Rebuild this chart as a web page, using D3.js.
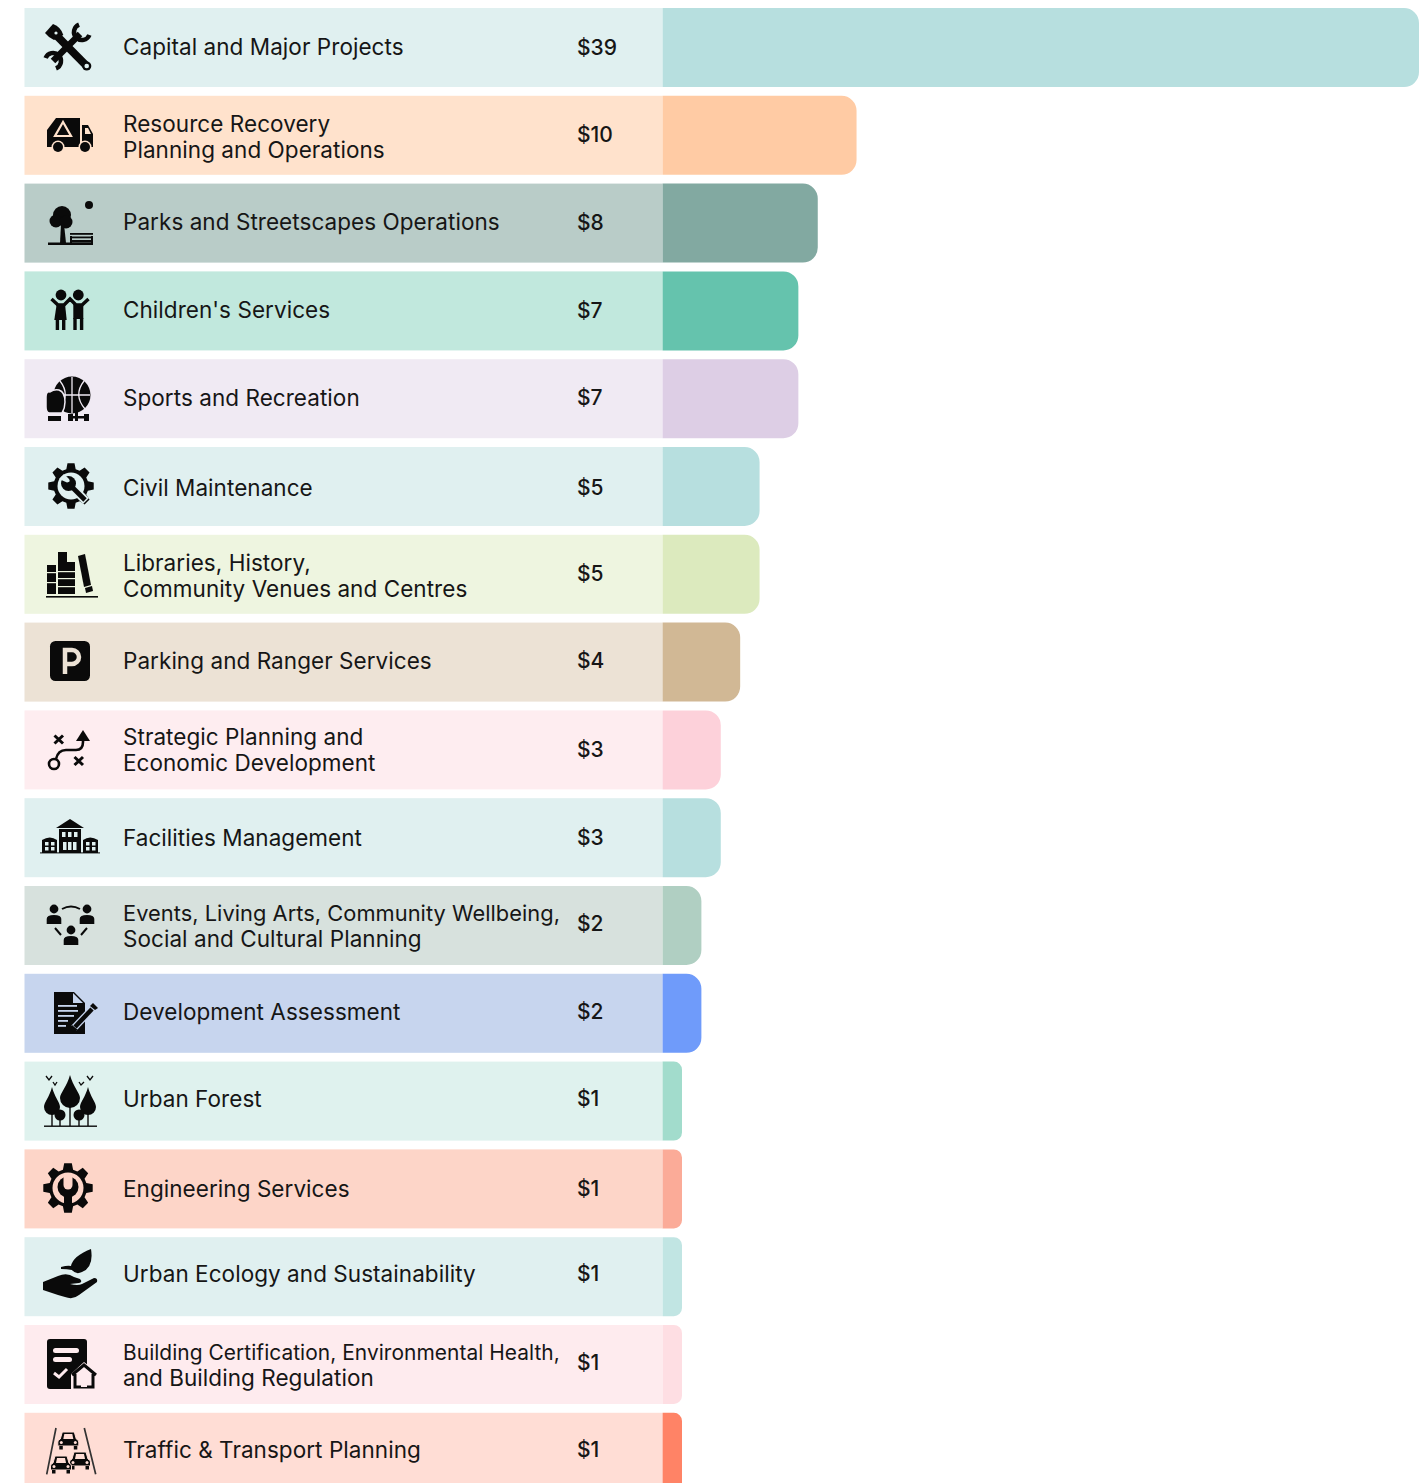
<!DOCTYPE html>
<html>
<head>
<meta charset="utf-8">
<script src="https://cdn.jsdelivr.net/npm/d3@7"></script>
<style>
  html, body { margin: 0; background: #fff; overflow: hidden; }
  svg { display: block; }
  text { font-family: Inter, "Noto Sans", sans-serif; fill: #161616; }
  .label { font-size: 22.5px; letter-spacing: 0.05px; }
  .value { font-size: 21px; font-weight: 500; }
</style>
</head>
<body>
<svg id="chart" width="1426" height="1483"></svg>
<script>
const categories = [
  "Capital and Major Projects",
  "Resource Recovery\nPlanning and Operations",
  "Parks and Streetscapes Operations",
  "Children's Services",
  "Sports and Recreation",
  "Civil Maintenance",
  "Libraries, History,\nCommunity Venues and Centres",
  "Parking and Ranger Services",
  "Strategic Planning and\nEconomic Development",
  "Facilities Management",
  "Events, Living Arts, Community Wellbeing,\nSocial and Cultural Planning",
  "Development Assessment",
  "Urban Forest",
  "Engineering Services",
  "Urban Ecology and Sustainability",
  "Building Certification, Environmental Health,\nand Building Regulation",
  "Traffic & Transport Planning"
];
const values = [39, 10, 8, 7, 7, 5, 5, 4, 3, 3, 2, 2, 1, 1, 1, 1, 1];
const panelColours = [
  "#e0f0f0", "#ffe2cc", "#b9ccc8", "#c1e8dd", "#f0eaf3", "#e0f0f0",
  "#eef5e0", "#ece2d5", "#feedf0", "#e0f0f0", "#d7e1dd", "#c7d5ee",
  "#dff2ee", "#fdd5c8", "#e0f0f0", "#feebee", "#ffddd5"
];
const barColours = [
  "#b7dfdf", "#ffcba4", "#82a9a1", "#65c3ad", "#ddcee5", "#b7dfdf",
  "#dceabe", "#d1b895", "#fdd1da", "#b7dfdf", "#b0cfc2", "#6f9bfa",
  "#a2dccc", "#fbab98", "#c1e5e3", "#fedee3", "#ff8366"
];
const ink = "#0a0a0a";

const svg = d3.select("#chart");
const panelLeft = 24.5;
const labelX = 123;
const valueX = 577;
const maxLabel = 437;
const x = d3.scaleLinear().domain([0, 39]).range([662.6, 1419]);
const y = d3.scaleBand().domain(categories).range([8, 1491.8]).paddingInner(0.1).paddingOuter(0);
const panelColour = d3.scaleOrdinal(categories, panelColours);
const barColour = d3.scaleOrdinal(categories, barColours);

const rows = categories.map((name, i) => ({ name, value: values[i], i }));

const row = svg.selectAll("g.row").data(rows).join("g").attr("class", "row");

row.append("rect")
  .attr("x", panelLeft)
  .attr("y", d => y(d.name))
  .attr("width", x(0) - panelLeft)
  .attr("height", y.bandwidth())
  .attr("fill", d => panelColour(d.name));

// bar only rounds its right side, radius shrinks on the short ones
row.append("path")
  .attr("fill", d => barColour(d.name))
  .attr("d", d => {
    const x0 = x(0), x1 = x(d.value), t = y(d.name), h = y.bandwidth();
    const r = Math.min(15, (x1 - x0) * 0.42);
    return `M${x0},${t}H${x1 - r}A${r},${r} 0 0 1 ${x1},${t + r}V${t + h - r}A${r},${r} 0 0 1 ${x1 - r},${t + h}H${x0}Z`;
  });

// ---- icons, drawn by hand around a local centre ----
function gearPath(teeth, rOut, rIn) {
  const pts = [];
  const step = (2 * Math.PI) / teeth;
  for (let i = 0; i < teeth; i++) {
    const a = i * step - Math.PI / 2;
    [[-0.30, rIn], [-0.17, rOut], [0.17, rOut], [0.30, rIn]].forEach(([k, r]) => {
      pts.push([r * Math.cos(a + k * step * 1.15), r * Math.sin(a + k * step * 1.15)]);
    });
  }
  return d3.line()(pts) + "Z";
}
const fill = (g, d, c) => g.append("path").attr("d", d).attr("fill", c || ink);
const line = (g, d, w, c) => g.append("path").attr("d", d).attr("fill", "none")
  .attr("stroke", c || ink).attr("stroke-width", w);
const dot = (g, cx, cy, r, c) => g.append("circle").attr("cx", cx).attr("cy", cy).attr("r", r).attr("fill", c || ink);
const box = (g, bx, by, w, h, c, r) => g.append("rect").attr("x", bx).attr("y", by).attr("width", w).attr("height", h)
  .attr("rx", r || 0).attr("fill", c || ink);
function person(g, px, py, w) {
  dot(g, px, py, w * 0.6);
  fill(g, `M${px - w},${py + 15}V${py + 10}Q${px - w},${py + 6} ${px},${py + 6}Q${px + w},${py + 6} ${px + w},${py + 10}V${py + 15}Z`);
}
function car(g, cx, cy, bg) {
  fill(g, `M${cx - 8},${cy - 1}L${cx - 6},${cy - 8}H${cx + 6}L${cx + 8},${cy - 1}Q${cx + 10.5},${cy} ${cx + 10.5},${cy + 2}V${cy + 6}H${cx - 10.5}V${cy + 2}Q${cx - 10.5},${cy} ${cx - 8},${cy - 1}Z`).attr("stroke", bg).attr("stroke-width", 1);
  fill(g, `M${cx - 5},${cy - 1}L${cx - 4},${cy - 6}H${cx + 4}L${cx + 5},${cy - 1}Z`, bg);
  box(g, cx - 9, cy + 6, 3.5, 3.5); box(g, cx + 5.5, cy + 6, 3.5, 3.5);
  dot(g, cx - 7, cy + 2.5, 1.5, bg); dot(g, cx + 7, cy + 2.5, 1.5, bg);
}
function teardrop(g, cx, top, bottom, w) {
  fill(g, `M${cx},${top}C${cx + w * 0.3},${top + (bottom - top) * 0.35} ${cx + w},${top + (bottom - top) * 0.55} ${cx + w},${bottom - w}A${w},${w} 0 0 1 ${cx - w},${bottom - w}C${cx - w},${top + (bottom - top) * 0.55} ${cx - w * 0.3},${top + (bottom - top) * 0.35} ${cx},${top}Z`);
}

// at = icon centre, labelDy / valueDy = small per-row text nudges of the layout
const layout = [
  // tools
  { at: [68, 47], labelDy: 0, valueDy: 0, draw: (g, bg) => {
    line(g, "M-15,14L12,-13", 6.5);
    line(g, "M11,-22.4A8,8 0 1 0 21.4,-12", 4.5);
    line(g, "M-22.4,11A8,8 0 1 1 -12,21.4", 4.5);
    fill(g, "M-23,-14L-15,-23Q-7,-20 -4.7,-12L-14,-7Q-20,-10 -23,-14Z");
    line(g, "M-12,-12L18.7,19", 8);
    dot(g, 18.7, 19, 4.6);
    dot(g, 18.7, 19, 2.3, bg);
    dot(g, -12, -14, 1.6, bg);
  } },
  // recycling truck
  { at: [70, 135], labelDy: 2, valueDy: -1, draw: (g, bg) => {
    fill(g, "M-14,-17H10V8H-23V-5Z");
    fill(g, "M12,-10H18L23,-1V12H12Z");
    fill(g, "M15,-7H18L21,-1H15Z", bg);
    box(g, -23, 8, 46, 4);
    dot(g, -12, 12, 6.5, bg); dot(g, 15, 12, 6.5, bg);
    dot(g, -12, 12, 5); dot(g, 15, 12, 5);
    line(g, "M-7,-13L-15,1H1Z", 2.2, bg);
  } },
  // park and bench
  { at: [71, 222], labelDy: -1, valueDy: -1, draw: (g, bg) => {
    dot(g, 18, -17, 4);
    dot(g, -9, -7, 9); dot(g, -15, -1, 6.5); dot(g, -5, 0, 6.5);
    fill(g, "M-10,2H-7L-5,21H-11Z");
    box(g, -23, 20.5, 45, 2.5);
    box(g, -1, 11, 23, 1.8); box(g, -1, 14.5, 23, 1.8); box(g, -1, 18, 23, 2.5);
    box(g, -1, 14, 2, 7); box(g, 20, 14, 2, 7);
  } },
  // children
  { at: [70, 310], labelDy: 0, valueDy: 0, draw: (g) => {
    dot(g, -9, -15, 5.4); dot(g, 8.3, -15, 5.4);
    line(g, "M-18.5,-11L-12,-5H-6L0,-11L6,-5H12L18.5,-11", 3.4);
    fill(g, "M-13.3,-6H-5L-3.3,10H-15.7Z");
    box(g, -14.3, 9, 3.4, 11); box(g, -8, 9, 3.4, 11);
    box(g, 3.3, -6, 10, 15);
    box(g, 3.3, 8, 3.4, 12); box(g, 9.9, 8, 3.4, 12);
  } },
  // sport
  { at: [68, 398], labelDy: 0, valueDy: -1, draw: (g, bg) => {
    dot(g, 4, -3, 18.5);
    line(g, "M4,-21V15M-14,-3H22", 1.3, bg);
    line(g, "M-8,-17Q3,-3 -9,11M16,-17Q5,-3 17,11", 1.3, bg);
    fill(g, "M-18,-6Q-22,-7 -22,-1V9Q-22,14 -19,15H-6Q-3,10 -3,4Q-3,-6 -9,-8Q-14,-9 -18,-6Z").attr("stroke", bg).attr("stroke-width", 1.5);
    box(g, -20, 18, 13, 5);
    box(g, 0, 16, 5, 7); box(g, 16, 16, 5, 7); box(g, 5, 18, 11, 2.5);
    box(g, 7, 14, 3, 9);
  } },
  // civil gear
  { at: [71, 486], labelDy: 2, valueDy: 1, draw: (g, bg) => {
    fill(g, gearPath(8, 23, 17.5));
    dot(g, 0, 0, 13.5, bg);
    line(g, "M0,0L15,15", 8.5, bg);
    line(g, "M-2,-2L14,14", 4.8);
    dot(g, -2.5, -2.5, 7.5);
    fill(g, "M-12,-7L-7,-12L-2,-7Q0,-4 -4,-3.5Z", bg);
  } },
  // books
  { at: [71, 575], labelDy: 2, valueDy: -1, draw: (g, bg) => {
    box(g, -25, 21, 52, 1.6);
    box(g, -24, -10, 9, 29); box(g, -13, -23, 9, 42); box(g, -5, -13, 9, 32);
    fill(g, "M7,-19L14,-21L20,10L13,12Z");
    fill(g, "M14,13L21,11L22,16L15,18Z");
    [-3, 7].forEach(ly => box(g, -24, ly, 9, 1.2, bg));
    [-4, 3, 11].forEach(ly => box(g, -13, ly, 17, 1.2, bg));
  } },
  // parking
  { at: [70, 661], labelDy: -1, valueDy: -2, draw: (g, bg) => {
    box(g, -20, -20, 40, 40, ink, 5.5);
    line(g, "M-5,13V-11H2A7,7 0 0 1 2,3H-5", 4.5, bg);
  } },
  // strategy
  { at: [68, 750], labelDy: 1, valueDy: 0, draw: (g) => {
    line(g, "M-13.5,-14.5L-5,-6.5M-5,-14.5L-13.5,-6.5", 3);
    line(g, "M6.5,7L15,15M15,7L6.5,15", 3);
    g.append("circle").attr("cx", -14).attr("cy", 14).attr("r", 5).attr("fill", "none").attr("stroke", ink).attr("stroke-width", 2.6);
    line(g, "M-12,9Q-10,0 -2,0H8Q15,0 15,-8V-11", 2.6);
    fill(g, "M15,-20L22,-9H8Z");
  } },
  // facilities
  { at: [70, 836], labelDy: 1, valueDy: 0, draw: (g, bg) => {
    box(g, -30, 16.4, 60, 1);
    fill(g, "M0,-17L14,-8H-14Z");
    box(g, -11, -7, 22, 24);
    fill(g, "M-28,4Q-20,-1 -13,4V17H-28Z");
    fill(g, "M28,4Q20,-1 13,4V17H28Z");
    [-8, -2, 4].forEach(wx => box(g, wx, -4, 3.5, 5, bg));
    [-7, -2, 3].forEach(wx => box(g, wx, 6, 3.5, 8, bg));
    [-25, -19, 16, 22].forEach(wx => { box(g, wx, 6, 3.5, 3.5, bg); box(g, wx, 11, 3.5, 3.5, bg); });
  } },
  // people
  { at: [71, 925], labelDy: 1, valueDy: -2, draw: (g) => {
    person(g, -17, -16, 7.3); person(g, 16, -16, 7.3); person(g, 0, 5, 7.3);
    line(g, "M-9,-16Q0,-21 9,-16", 2);
    line(g, "M-16,3L-10,10M16,3L10,10", 2);
  } },
  // document and pencil
  { at: [75, 1012], labelDy: -1, valueDy: -2, draw: (g, bg) => {
    fill(g, "M-21,-20H-1L10,-9V22H-21Z");
    fill(g, "M-2,-19L8,-9H-2Z", bg);
    [-7, -2, 3, 8, 13].forEach((ly, k) => box(g, -17, ly, [19, 20, 16, 10, 8][k], 1.8, bg));
    line(g, "M-1,16L17,-3", 7, bg);
    line(g, "M0,15L17,-3", 4.5);
    fill(g, "M-4,20L-3,13L3,18Z");
    fill(g, "M18,-9L23,-4L20,-2L15,-6Z");
  } },
  // forest
  { at: [70, 1100], labelDy: -2, valueDy: -3, draw: (g) => {
    box(g, -26, 25.5, 53, 1.4);
    teardrop(g, 0, -25, 8, 10); teardrop(g, -18, -13, 15, 8); teardrop(g, 18, -13, 15, 8);
    dot(g, -10, 15, 5.5); dot(g, 9, 15, 5.5);
    line(g, "M0,5V26M-18,12V26M18,12V26M-10,15V26M9,15V26", 1.4);
    line(g, "M-24,-24L-21,-20L-18,-24M-17,-18L-15,-15L-13,-18", 1.3);
    line(g, "M17,-24L20,-20L23,-24M9,-18L11,-15L14,-18", 1.3);
  } },
  // engineering gear
  { at: [68, 1188], labelDy: 1, valueDy: 0, draw: (g, bg) => {
    fill(g, gearPath(8, 25, 19));
    dot(g, 0, 0, 15.5, bg);
    dot(g, 0, -1, 10.5);
    box(g, -4, 6, 8, 12);
    fill(g, "M-4.5,-13V-3A4.5,4.5 0 0 0 4.5,-3V-13Z", bg);
  } },
  // hand and leaf
  { at: [70, 1273], labelDy: -2, valueDy: -3, draw: (g) => {
    fill(g, "M-27,9L-12,3Q-3,-1 4,4L10,6Q13,9 9,10L0,11Q8,13 12,11L24,5Q28,5 27,9L9,22Q3,27 -5,24L-12,22L-27,17Z");
    fill(g, "M-9,-6Q-2,-8 1,-7Q3,-17 21,-24Q24,-6 12,-1Q6,2 2,-3Q-3,-4 -9,-4Z");
  } },
  // certificate and house
  { at: [72, 1363], labelDy: 1, valueDy: -2, draw: (g, bg) => {
    box(g, -25, -24, 40, 50, ink, 3);
    box(g, -19, -15, 26, 5, bg, 2.5); box(g, -19, -6, 19, 5, bg, 2.5);
    line(g, "M-18,10L-13,14L-5,6", 3, bg);
    fill(g, "M12,-1L27,11V26H-1V11Z", bg);
    line(g, "M0,12L12,2L24,12M3,11V24H21V11", 3);
    fill(g, "M9,24V15H15V24Z", bg);
  } },
  // road and cars
  { at: [71, 1450], labelDy: -2, valueDy: -3, draw: (g, bg) => {
    line(g, "M-15,-22L-24.3,24.3M13.3,-22L24.7,24.3", 1.7, "#333");
    car(g, -2.7, -10, bg); car(g, 9, 10, bg); car(g, -10, 14, bg);
  } }
];

row.each(function (d) {
  const g = d3.select(this);
  const spot = layout[d.i];
  const mid = y(d.name) + y.bandwidth() / 2;
  const lines = d.name.split("\n");
  lines.forEach((text, k) => {
    const t = g.append("text")
      .attr("class", "label")
      .attr("x", labelX)
      .attr("y", mid + 7.5 + spot.labelDy + (k - (lines.length - 1) / 2) * 26)
      .text(text);
    // the one very long line gets a smaller size so it clears the value
    const len = t.node().getComputedTextLength();
    if (len > maxLabel) t.style("font-size", (22.5 * maxLabel) / len + "px");
  });
  g.append("text")
    .attr("class", "value")
    .attr("x", valueX)
    .attr("y", mid + 7.5 + spot.valueDy)
    .text("$" + d.value);

  const icon = g.append("g").attr("transform", `translate(${spot.at})`);
  spot.draw(icon, panelColour(d.name));
});
</script>
</body>
</html>
